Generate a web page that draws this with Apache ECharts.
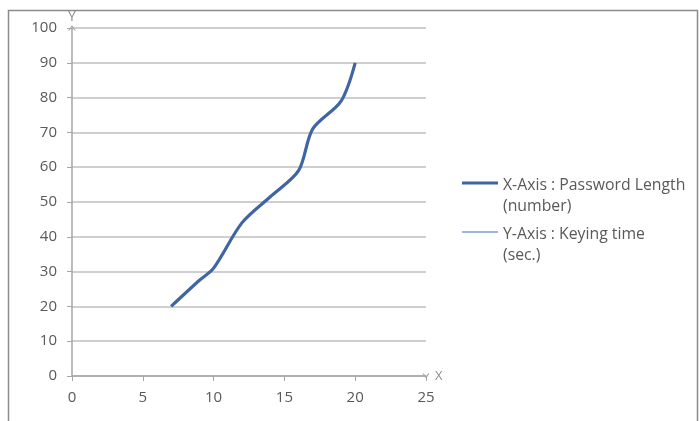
<!DOCTYPE html>
<html>
<head>
<meta charset="utf-8">
<script src="https://cdn.jsdelivr.net/npm/echarts@6/dist/echarts.min.js"></script>
<style>
html,body{margin:0;padding:0;background:#fff;}
#main{width:699px;height:421px;}
</style>
</head>
<body>
<div id="main"></div>
<script>
// Data
const passwordLength = [7, 9, 10, 12, 14, 16, 17, 19, 20];
const keyingTime = [20, 27.5, 31, 44, 51.5, 59, 71, 79, 90];
const seriesNames = ['X-Axis : Password Length\n(number)', 'Y-Axis : Keying time\n(sec.)'];
const xTicks = [0, 25, 5];   // min, max, interval
const yTicks = [0, 100, 10]; // min, max, interval

const lineData = passwordLength.map((x, i) => [x, keyingTime[i]]);

const chart = echarts.init(document.getElementById('main'), null, {renderer: 'canvas'});
const txt = '#595959';
const font = 'Open Sans';
const legendText = {
  color: txt, fontFamily: font, fontSize: 15.8,
  rich: {
    a: {color: txt, fontFamily: font, fontSize: 15.8, lineHeight: 46, verticalAlign: 'bottom'},
    b: {color: txt, fontFamily: font, fontSize: 15.8, lineHeight: 26}
  }
};
const legendFormatter = name => {
  const parts = name.split('\n');
  return '{a|' + parts[0] + '}\n{b|' + parts[1] + '}';
};

chart.setOption({
  animation: false,
  backgroundColor: '#fff',
  grid: {left: 72, right: 273, top: 28, bottom: 45, containLabel: false},
  xAxis: {
    type: 'value', min: xTicks[0], max: xTicks[1], interval: xTicks[2],
    name: 'X', nameGap: 9, nameTextStyle: {color: '#8c8c8c', fontSize: 13, fontFamily: font, verticalAlign: 'middle'},
    axisLine: {show: true, lineStyle: {color: '#a6a6a6', width: 1.5},
      symbol: ['none', 'path://M0,0 L7,5 L0,10 L0,8 L4.5,5 L0,2 Z'], symbolSize: [8, 7]},
    axisTick: {show: true, length: 5, lineStyle: {color: '#a6a6a6'}},
    axisLabel: {color: txt, fontFamily: font, fontSize: 15, margin: 14},
    splitLine: {show: false}
  },
  yAxis: {
    type: 'value', min: yTicks[0], max: yTicks[1], interval: yTicks[2],
    name: 'Y', nameGap: 4, nameTextStyle: {color: '#8c8c8c', fontSize: 14, fontFamily: font, align: 'center'},
    axisLine: {show: true, lineStyle: {color: '#a6a6a6', width: 1.5},
      symbol: ['none', 'path://M0,7 L5,0 L10,7 L8.5,7 L5,2.5 L1.5,7 Z'], symbolSize: [8, 6]},
    axisTick: {show: true, length: 5, lineStyle: {color: '#a6a6a6'}},
    axisLabel: {color: txt, fontFamily: font, fontSize: 15, margin: 15},
    splitLine: {show: true, lineStyle: {color: '#bfbfbf', width: 1.5}}
  },
  legend: [
    {
      data: [{name: seriesNames[0], icon: 'path://M0,0 H36 V3.2 H0 Z'}],
      left: 457, top: 172, orient: 'vertical', formatter: legendFormatter,
      itemWidth: 36, itemHeight: 14, itemGap: 0, symbolKeepAspect: true,
      textStyle: legendText, selectedMode: false
    },
    {
      data: [{name: seriesNames[1], icon: 'path://M0,0 H36 V1.6 H0 Z'}],
      left: 457, top: 221, orient: 'vertical', formatter: legendFormatter,
      itemWidth: 36, itemHeight: 14, itemGap: 0, symbolKeepAspect: true,
      textStyle: legendText, selectedMode: false
    }
  ],
  series: [
    {
      name: seriesNames[0], type: 'line', data: lineData, smooth: 0.3,
      showSymbol: false, symbol: 'none',
      lineStyle: {color: '#3f65a3', width: 3.2}, itemStyle: {color: '#3f65a3'}
    },
    {
      name: seriesNames[1], type: 'line', data: [], showSymbol: false, symbol: 'none',
      lineStyle: {color: '#7d9fd3', width: 1.6}, itemStyle: {color: '#7d9fd3'}
    }
  ],
  graphic: [
    {type: 'rect', silent: true, z: 100,
     shape: {x: 8.5, y: 10.5, width: 689, height: 430},
     style: {fill: 'none', stroke: '#8c8c8c', lineWidth: 1.5}}
  ]
});
</script>
</body>
</html>
